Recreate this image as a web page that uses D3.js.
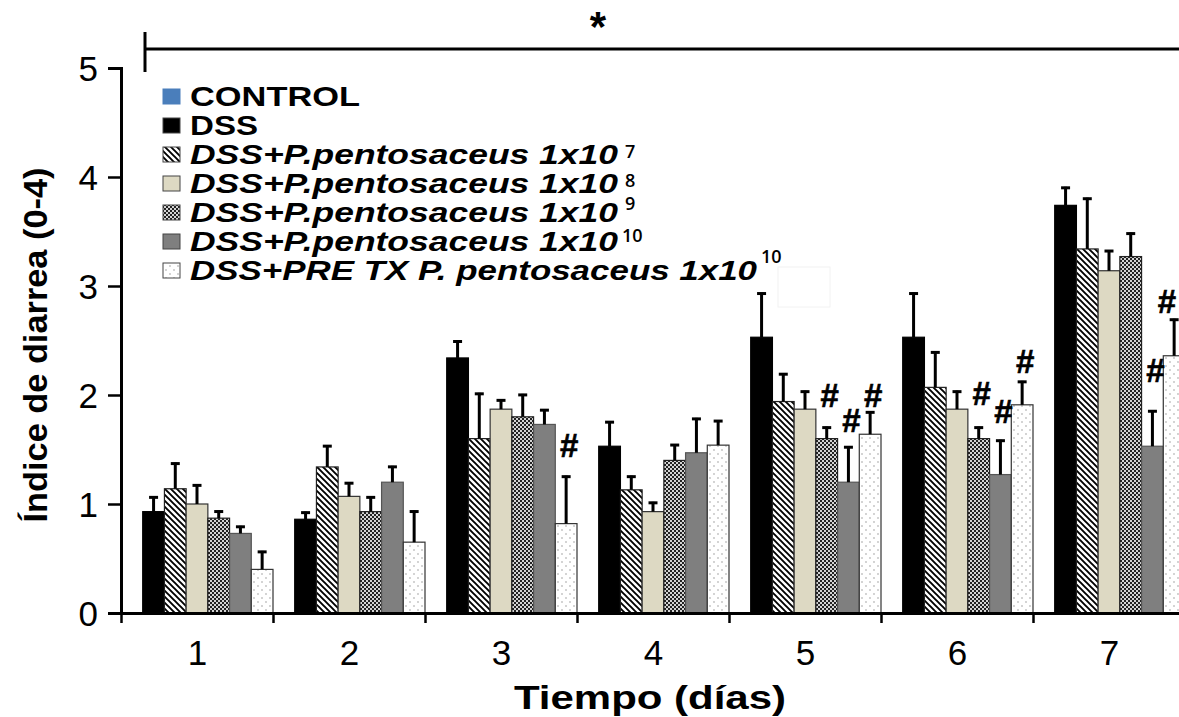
<!DOCTYPE html>
<html><head><meta charset="utf-8">
<script src="https://cdn.jsdelivr.net/npm/d3@7"></script>
<style>body{margin:0;background:#fff;} svg{display:block;}</style>
</head><body>
<svg id="c" width="1179" height="717"></svg>
<script>
// ---------- data ----------
const days = [1, 2, 3, 4, 5, 6, 7];
const seriesNames = ["CONTROL", "DSS", "DSS+P.pentosaceus 1x10", "DSS+P.pentosaceus 1x10", "DSS+P.pentosaceus 1x10", "DSS+P.pentosaceus 1x10", "DSS+PRE TX P. pentosaceus 1x10"];
const seriesExp = ["", "", "7", "8", "9", "10", "10"];
const control = [0, 0, 0, 0, 0, 0, 0];
const dss     = [0.93, 0.86, 2.34, 1.53, 2.53, 2.53, 3.74];
const p7      = [1.14, 1.34, 1.60, 1.13, 1.94, 2.07, 3.34];
const p8      = [1.00, 1.07, 1.87, 0.93, 1.87, 1.87, 3.14];
const p9      = [0.87, 0.93, 1.80, 1.40, 1.60, 1.60, 3.27];
const p10     = [0.73, 1.20, 1.73, 1.47, 1.20, 1.27, 1.53];
const pre     = [0.40, 0.65, 0.82, 1.54, 1.64, 1.91, 2.36];
const controlErr = [0, 0, 0, 0, 0, 0, 0];
const dssErr  = [0.14, 0.07, 0.16, 0.23, 0.41, 0.41, 0.17];
const p7Err   = [0.24, 0.20, 0.42, 0.13, 0.26, 0.33, 0.47];
const p8Err   = [0.18, 0.13, 0.09, 0.09, 0.17, 0.17, 0.19];
const p9Err   = [0.07, 0.14, 0.21, 0.15, 0.11, 0.11, 0.22];
const p10Err  = [0.07, 0.15, 0.14, 0.32, 0.33, 0.32, 0.33];
const preErr  = [0.17, 0.29, 0.44, 0.23, 0.21, 0.22, 0.34];
const yTicks = [0, 1, 2, 3, 4, 5];
// significance marks "#": day, series index, level (data units, bottom of mark)
const sigDay    = [3, 5, 5, 5, 6, 6, 6, 7, 7];
const sigSeries = [6, 4, 5, 6, 4, 5, 6, 5, 6];
const sigLevel  = [1.43, 1.89, 1.66, 1.89, 1.91, 1.74, 2.20, 2.12, 2.75];

const values = [control, dss, p7, p8, p9, p10, pre];
const errors = [controlErr, dssErr, p7Err, p8Err, p9Err, p10Err, preErr];

// ---------- setup ----------
const svg = d3.select("#c");
const FONT = "'Liberation Sans', Arial, sans-serif";
const defs = svg.append("defs");
const hatch = defs.append("pattern").attr("id","hatch").attr("patternUnits","userSpaceOnUse").attr("width",6).attr("height",6);
hatch.append("rect").attr("width",6).attr("height",6).attr("fill","#fff");
hatch.append("path").attr("d","M0,0L6,6M-3,3L3,9M3,-3L9,3").attr("stroke","#000").attr("stroke-width",1.9);
const checker = defs.append("pattern").attr("id","checker").attr("patternUnits","userSpaceOnUse").attr("width",4).attr("height",4);
checker.append("rect").attr("width",4).attr("height",4).attr("fill","#d4d4d4");
checker.append("rect").attr("width",2).attr("height",2).attr("fill","#222");
checker.append("rect").attr("x",2).attr("y",2).attr("width",2).attr("height",2).attr("fill","#222");
const dots = defs.append("pattern").attr("id","dots").attr("patternUnits","userSpaceOnUse").attr("width",8).attr("height",8);
dots.append("rect").attr("width",8).attr("height",8).attr("fill","#fff");
dots.append("circle").attr("cx",2).attr("cy",2).attr("r",0.7).attr("fill","#888");
dots.append("circle").attr("cx",6).attr("cy",6).attr("r",0.7).attr("fill","#888");

const fills = ["#4a7ebb", "#000000", "url(#hatch)", "#ddd9c3", "url(#checker)", "#7f7f7f", "url(#dots)"];
const strokes = ["#4a7ebb", "#000", "#222", "#333", "#222", "#555", "#333"];

const x = d3.scaleLinear().domain([0.5, 7.5]).range([121, 1185]);
const inner = d3.scaleBand().domain(d3.range(seriesNames.length)).range([0, x(1.5) - x(0.5)]).padding(0);
const y = d3.scaleLinear().domain([0, 5]).range([613, 68]);

// ---------- bars ----------
const barData = [];
values.forEach((vals, s) => vals.forEach((v, i) => barData.push({s, day: days[i], v, e: errors[s][i]})));
const bars = barData.filter(d => d.v > 0);

svg.append("g").selectAll("rect").data(bars).join("rect")
  .attr("x", d => x(d.day - 0.5) + inner(d.s))
  .attr("y", d => y(d.v))
  .attr("width", inner.bandwidth())
  .attr("height", d => y(0) - y(d.v))
  .attr("fill", d => fills[d.s])
  .attr("stroke", d => strokes[d.s])
  .attr("stroke-width", 1.2);

// error bars
const eg = svg.append("g").attr("stroke", "#000");
bars.forEach(d => {
  const cx = x(d.day - 0.5) + inner(d.s) + inner.bandwidth() / 2;
  eg.append("line").attr("x1", cx).attr("x2", cx).attr("y1", y(d.v)).attr("y2", y(d.v + d.e)).attr("stroke-width", 3);
  eg.append("line").attr("x1", cx - 4.5).attr("x2", cx + 4.5).attr("y1", y(d.v + d.e) + 1).attr("y2", y(d.v + d.e) + 1).attr("stroke-width", 3);
});

// significance marks
svg.append("g").selectAll("text").data(sigDay.map((d, i) => ({day: d, s: sigSeries[i], lv: sigLevel[i]}))).join("text")
  .attr("x", d => Math.min(x(d.day - 0.5) + inner(d.s) + inner.bandwidth() / 2 + 3, 1167))
  .attr("y", d => y(d.lv))
  .attr("text-anchor", "middle")
  .attr("font-family", FONT).attr("font-weight", "bold").attr("font-size", 33)
  .attr("stroke", "#000").attr("stroke-width", 0.6)
  .text("#");

// ---------- axes ----------
const yAxis = svg.append("g").attr("transform", `translate(${x(0.5)},0)`)
  .call(d3.axisLeft(y).tickValues(yTicks).tickSize(13).tickPadding(10).tickFormat(d3.format("d")));
yAxis.select(".domain").attr("stroke-width", 3).attr("stroke", "#000");
yAxis.selectAll(".tick line").attr("stroke-width", 2.5);
yAxis.selectAll(".tick text").attr("font-family", FONT).attr("font-size", 35).attr("fill", "#000").attr("dy", "0.36em");

const xAxis = svg.append("g").attr("transform", `translate(0,${y(0)})`)
  .call(d3.axisBottom(x).tickValues(d3.range(0.5, 8, 1)).tickSize(10).tickSizeOuter(0).tickFormat(""));
xAxis.select(".domain").attr("stroke-width", 3).attr("stroke", "#000");
xAxis.selectAll(".tick line").attr("stroke-width", 2.5);

const xLab = svg.append("g").attr("transform", `translate(0,${y(0)})`)
  .call(d3.axisBottom(x).tickValues(days).tickSize(0).tickPadding(27).tickFormat(d3.format("d")));
xLab.select(".domain").remove();
xLab.selectAll(".tick text").attr("font-family", FONT).attr("font-size", 35).attr("fill", "#000");

// axis titles
svg.append("text").attr("x", 650).attr("y", 709).attr("text-anchor", "middle")
  .attr("font-family", FONT).attr("font-weight", "bold").attr("font-size", 34)
  .attr("textLength", 272).attr("lengthAdjust", "spacingAndGlyphs")
  .text("Tiempo (días)");
svg.append("text").attr("transform", "translate(47,345) rotate(-90)").attr("text-anchor", "middle")
  .attr("font-family", FONT).attr("font-weight", "bold").attr("font-size", 33)
  .attr("textLength", 355).attr("lengthAdjust", "spacingAndGlyphs")
  .text("Índice de diarrea (0-4)");

// ---------- significance bracket ----------
svg.append("line").attr("x1", 145).attr("x2", 1185).attr("y1", 49).attr("y2", 49).attr("stroke", "#000").attr("stroke-width", 3);
svg.append("line").attr("x1", 145).attr("x2", 145).attr("y1", 32).attr("y2", 72).attr("stroke", "#000").attr("stroke-width", 3);
svg.append("text").attr("x", 598).attr("y", 41).attr("text-anchor", "middle")
  .attr("font-family", FONT).attr("font-weight", "bold").attr("font-size", 42).text("*");

// ---------- legend ----------
const legendBase = [106, 135, 164, 193, 222, 251, 280];
const legendWidths = [170, 68, 428, 428, 428, 428, 567];
const expPos = [null, null, [625, 158], [625, 187], [625, 210], [622, 242], [761, 263]];
svg.append("rect").attr("x", 778).attr("y", 267).attr("width", 52).attr("height", 40).attr("fill", "#fff").attr("stroke", "#f2f2f2");
const lg = svg.append("g");
seriesNames.forEach((name, i) => {
  lg.append("rect").attr("x", 163).attr("y", legendBase[i] - 17).attr("width", 17).attr("height", 15)
    .attr("fill", fills[i]).attr("stroke", i === 0 ? "#4a7ebb" : "#444").attr("stroke-width", 1);
  lg.append("text").attr("x", 190).attr("y", legendBase[i])
    .attr("font-family", FONT).attr("font-weight", "bold").attr("font-size", 28)
    .attr("font-style", i >= 2 ? "italic" : "normal")
    .attr("textLength", legendWidths[i]).attr("lengthAdjust", "spacingAndGlyphs")
    .text(name);
  if (seriesExp[i]) {
    lg.append("text").attr("x", expPos[i][0]).attr("y", expPos[i][1])
      .attr("font-family", "'Open Sans', 'Noto Sans', sans-serif").attr("font-weight", 600).attr("font-size", 18)
      .text(seriesExp[i]);
  }
});
</script>
</body></html>
